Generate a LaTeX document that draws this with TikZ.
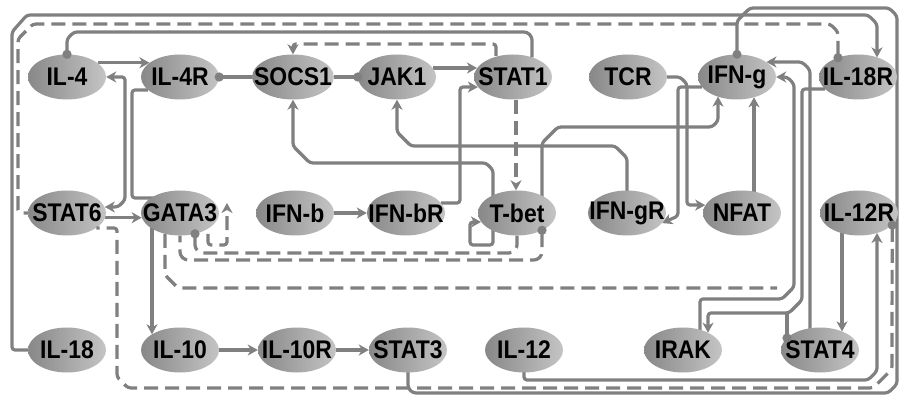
\documentclass[tikz,border=0pt]{standalone}
\usepackage{fontspec}
\setmainfont{Liberation Sans}
\newfontfamily\genefont[FakeStretch=0.9]{Liberation Sans}
\usepackage{tikz}
\usetikzlibrary{shapes.geometric,arrows.meta,backgrounds}
\definecolor{wire}{RGB}{128,128,128}
\definecolor{genedark}{RGB}{136,136,136}
\definecolor{genelight}{RGB}{196,196,196}

\begin{document}
\begin{tikzpicture}[
x=1pt,y=-1pt,
gene/.style={
ellipse,
minimum width=78pt,
minimum height=45pt,
inner xsep=-10pt,
inner ysep=0pt,
left color=genedark,
right color=genelight,
font=\genefont\bfseries\fontsize{25.5}{27}\selectfont
},
link/.style={
draw=wire,
line width=3.2pt,
rounded corners=3pt
},
dlink/.style={
link,
dash pattern=on 14pt off 7pt
},
arrow/.style={
-{Stealth[length=10pt,width=11pt,inset=3pt]}
},
both/.style={
{Stealth[length=10pt,width=11pt,inset=3pt]}-{Stealth[length=10pt,width=11pt,inset=3pt]}
},
dot/.style={
{Circle[length=9pt]}-,
shorten <=-4.5pt
}
]

\useasboundingbox (0,0) rectangle (899,395);

\node[gene] (il4) at (67,77) {IL-4};
\node[gene] (il4r) at (180,77) {IL-4R};
\node[gene] (socs1) at (293,77) {SOCS1};
\node[gene] (jak1) at (397,77) {JAK1};
\node[gene] (stat1) at (513,77) {STAT1};
\node[gene] (tcr) at (628,77) {TCR};
\node[gene] (ifng) at (737,77) {IFN-g};
\node[gene] (il18r) at (858,77) {IL-18R};

\node[gene] (stat6) at (67,213) {STAT6};
\node[gene] (gata3) at (180,213) {GATA3};
\node[gene] (ifnb) at (295,213) {IFN-b};
\node[gene] (ifnbr) at (406,213) {IFN-bR};
\node[gene] (tbet) at (517,213) {T-bet};
\node[gene] (ifngr) at (627,213) {IFN-gR};
\node[gene] (nfat) at (742,213) {NFAT};
\node[gene] (il12r) at (859,213) {IL-12R};

\node[gene] (il18) at (67,350) {IL-18};
\node[gene] (il10) at (180,350) {IL-10};
\node[gene] (il10r) at (297,350) {IL-10R};
\node[gene] (stat3) at (408,350) {STAT3};
\node[gene] (il12) at (524,350) {IL-12};
\node[gene] (irak) at (683,350) {IRAK};
\node[gene] (stat4) at (820,350) {STAT4};

\coordinate (gloop) at (227,203);
\coordinate (gend) at (777,288);
\coordinate (junc) at (787,313);

\begin{scope}[on background layer]
\fill[white] (0,0) rectangle (899,395);

% outer frame lines
\draw[link, arrow] (il18.west) -- (12,350) -- (12,32) -- (27,15) -- (868,15) -- (877,24) -- ([xshift=19pt,yshift=19.6pt]il18r.center);
\draw[link] (ifng.north) -- (737,21) -- (750,8) -- (889,8) -- (897,16) -- (897,384) -- (888,393) -- (413,393) -- (408,388) -- (stat3.center);
\draw[link, arrow] (il12.center) -- (524,380) -- (868,380) -- (877,371) -- ([xshift=18pt,yshift=-20pt]il12r.center);

% top row
\draw[dlink, arrow] ([xshift=-17pt]stat1.center) -- (496,44) -- (293,44) -- (socs1.north);
\draw[link, arrow] (il4.25) -- (il4r.155);
\draw[link, arrow] (jak1.14) -- (stat1.166);
\draw[link, arrow] (ifnbr.16) -- (460,203) -- (460,87) -- (stat1.196);
\draw[dlink, arrow] ([xshift=3pt]stat1.south) -- ([xshift=3pt]stat1.south |- tbet.north);
\draw[link, arrow] ([xshift=-24pt]tbet.center) -- (493,170) -- (486,163) -- (310,163) -- (293,146) -- (socs1.south);
\draw[link, arrow] (ifngr.center) -- (627,158) -- (615,146) -- (411,146) -- (397,132) -- (jak1.south);
\draw[link, arrow] ([xshift=25pt]tbet.center) -- (542,143) -- (558,127) -- (712,127) -- (718,121) -- ([xshift=-19pt,yshift=-19.6pt]ifng.center);
\draw[link, arrow] ([xshift=12pt]nfat.center) -- ([xshift=17pt,yshift=-20.3pt]ifng.center);
\draw[link, arrow] (tcr.east) -- (680,77) -- (687,84) -- (687,205) -- (nfat.168);
\draw[link, arrow] (ifng.196) -- (678,87) -- (678,216) -- (ifngr.-16);

% right bundle
\draw[link, arrow] ([xshift=-10pt]stat4.center) -- (810,70) -- (802,62) -- (ifng.27);
\draw[link, arrow] ([xshift=17pt]irak.center) -- (700,299) -- (782,299) -- (794,287) -- (794,84) -- (787,77) -- (ifng.east);
\draw[link, arrow] (il18r.200) -- (802,89) -- (802,300) -- (789,313) -- (708,313) -- ([xshift=25pt,yshift=17.3pt]irak.center);
\draw[link, arrow] ([xshift=-17pt]il12r.center) -- ([xshift=22pt,yshift=18.6pt]stat4.center);

% left side
\draw[link, arrow] (stat6.-7) -- (gata3.187);
\draw[link] (il4r.202) -- (132,90) -- (132,198) -- ([yshift=15pt]gata3.center);
\draw[link, both] (il4.east) -- (125,77) -- (125,200) -- (118,207) -- (stat6.9);
\draw[link, arrow] ([xshift=-28pt]gata3.center) -- ([xshift=-28pt,yshift=15.7pt]il10.center);
\draw[link, arrow] (il10.east) -- (il10r.west);
\draw[link, arrow] (il10r.east) -- (stat3.west);
\draw[link, arrow] (ifnb.east) -- (ifnbr.west);

% GATA3 / T-bet loops
\draw[dlink, arrow] ([xshift=28pt]gata3.center) -- (208,245) -- (227,245) -- (gloop);
\draw[dlink] ([xshift=-15pt]gata3.center) -- (165,275) -- (178,288) -- (gend);
\draw[link, arrow] ([xshift=-24pt]tbet.center) -- (493,245) -- (470,245) -- (470,222) -- (tbet.194);
\end{scope}

% lines ending in a dot
\draw[dlink, dot] ([xshift=-20pt,yshift=19.3pt]il18r.center) -- (838,32) -- (830,24) -- (33,24) -- (18,39) -- (18,213) -- (stat6.west);
\draw[link, dot] (il4.north) -- (67,39) -- (74,32) -- (527,32) -- (532,37) -- ([xshift=19pt,yshift=19.6pt]stat1.center);
\draw[dlink, dot] (il12r.-20) -- (892,369) -- (873,388) -- (128,388) -- (117,377) -- (117,228) -- (stat6.-27);
\draw[link, dot] (il4r.east) -- (socs1.west);
\draw[link, dot] (jak1.west) -- (socs1.east);
\draw[dlink, dot] ([xshift=15pt,yshift=-20.8pt]gata3.center) -- (195,248) -- (200,253) -- (512,253) -- (517,248) -- (tbet.south);
\draw[dlink, dot] ([xshift=25pt,yshift=-17.3pt]tbet.center) -- (542,255) -- (537,260) -- (185,260) -- (180,255) -- (gata3.south);
\draw[link, dot] ([xshift=-33pt,yshift=12pt]stat4.center) -- (junc);
\fill[wire] (ifng.north) circle (4.5pt);

\end{tikzpicture}
\end{document}
